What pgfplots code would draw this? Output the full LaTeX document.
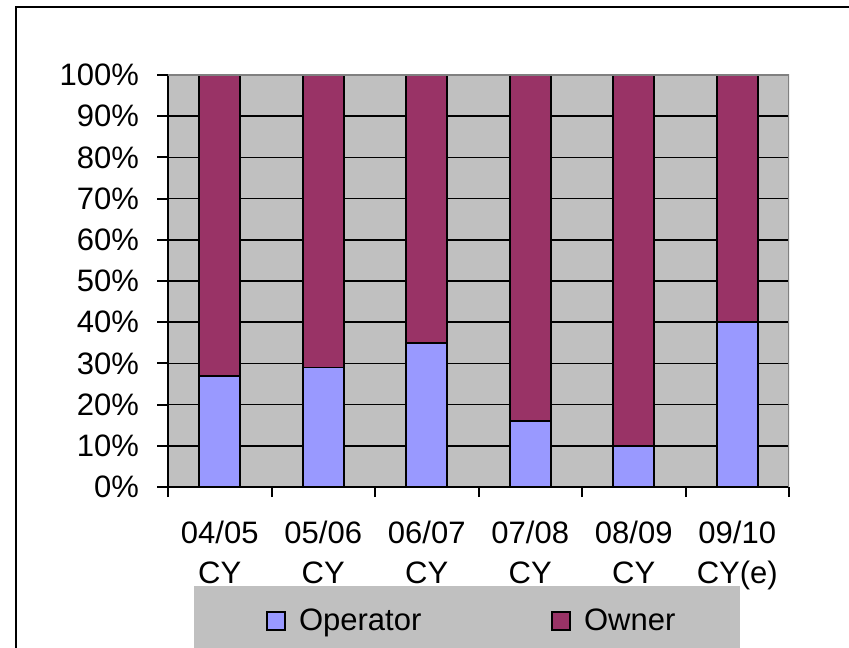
\documentclass[border=0pt]{standalone}
\usepackage{pgfplots}
\pgfplotsset{compat=1.18}
\usepackage{fontspec}
\setmainfont{Liberation Sans}
\definecolor{opc}{HTML}{9999FF}
\definecolor{owc}{HTML}{993366}
\definecolor{bgc}{HTML}{C0C0C0}
\definecolor{bdc}{HTML}{808080}
\begin{document}
\begin{tikzpicture}
\useasboundingbox (0,0) rectangle (424.5pt,323.5pt);
\draw[line width=1.4pt] (8pt,-5pt) -- (8pt,320pt) -- (430pt,320pt);
\fill[bgc] (97pt,-10pt) rectangle (370pt,30.5pt);
\begin{axis}[
  at={(84pt,80pt)}, anchor=south west,
  width=310.5pt, height=206pt, scale only axis,
  ybar stacked, bar width=20.5pt,
  xmin=-0.5, xmax=5.5, ymin=0, ymax=100,
  axis x line*=bottom, axis y line*=left,
  axis line style={black, line width=1pt},
  axis background/.style={fill=bgc},
  ytick={0,10,...,100},
  yticklabels={0\%,10\%,20\%,30\%,40\%,50\%,60\%,70\%,80\%,90\%,100\%},
  yticklabel style={xshift=-5.5pt},
  ymajorgrids, major grid style={black, line width=0.85pt},
  xtick={0,1,2,3,4,5},
  xticklabels={{04/05\\CY},{05/06\\CY},{06/07\\CY},{07/08\\CY},{08/09\\CY},{09/10\\CY(e)}},
  xticklabel style={align=center, yshift=-8pt},
  major x tick style={draw=none},
  minor xtick={-0.5,0.5,1.5,2.5,3.5,4.5,5.5},
  minor x tick style={black, line width=1pt},
  major y tick style={black, line width=1pt},
  tick align=outside,
  major tick length=5.5pt, minor tick length=5pt,
  every tick label/.append style={font=\fontsize{15.5}{20}\selectfont},
  legend columns=2,
  legend style={at={(axis description cs:0.1481,-0.3252)}, anchor=west, draw=none, fill=none,
    font=\fontsize{15.5}{20}\selectfont,
    /tikz/every odd column/.append style={column sep=4.5pt},
    /tikz/every even column/.append style={column sep=63pt}},
  legend image code/.code={\draw[#1, draw=black, line width=0.85pt] (0pt,-4.5pt) rectangle (9pt,4.5pt);},
]
\draw[bdc, line width=1pt] (rel axis cs:0,1) -- (rel axis cs:1,1) -- (rel axis cs:1,0);
\addplot[fill=opc, draw=black, line width=0.85pt] coordinates {(0,27) (1,29) (2,35) (3,16) (4,10) (5,40)};
\addplot[fill=owc, draw=black, line width=0.85pt] coordinates {(0,73) (1,71) (2,65) (3,84) (4,90) (5,60)};
\legend{Operator, Owner}
\end{axis}
\end{tikzpicture}
\end{document}
